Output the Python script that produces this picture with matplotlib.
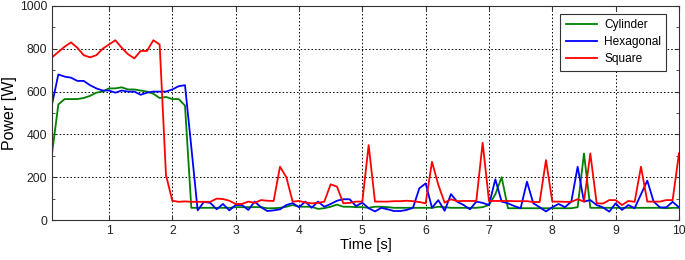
import matplotlib

matplotlib.use("Agg")
import matplotlib.pyplot as plt  # noqa: E402
import numpy as np  # noqa: E402
from matplotlib.ticker import MultipleLocator  # noqa: E402

plt.rcParams.update(
    {
        "font.family": ["Liberation Sans", "DejaVu Sans"],
        "font.size": 8.7,
        "xtick.direction": "in",
        "ytick.direction": "in",
        "xtick.top": True,
        "ytick.right": True,
    }
)

# time axis, 0.1 s steps
time = np.round(np.arange(1, 101) * 0.1, 1)

cylinder = [
    310, 540, 565, 565, 565, 570, 580, 595, 600, 615,
    615, 620, 610, 610, 605, 600, 590, 570, 575, 565,
    565, 535, 57, 57, 57, 57, 57, 57, 57, 60,
    60, 60, 60, 60, 55, 55, 57, 62, 70, 62,
    62, 62, 52, 55, 62, 72, 62, 62, 60, 60,
    57, 62, 62, 60, 57, 57, 57, 57, 57, 57,
    57, 62, 60, 57, 57, 57, 57, 57, 60, 70,
    120, 200, 55, 55, 55, 55, 55, 55, 55, 55,
    55, 55, 55, 60, 311, 57, 57, 57, 57, 57,
    57, 57, 57, 57, 57, 57, 57, 55, 57, 57,
]
hexagonal = [
    540, 680, 670, 665, 650, 650, 630, 615, 605, 605,
    595, 605, 600, 600, 585, 595, 600, 600, 600, 610,
    625, 630, 340, 45, 85, 80, 50, 75, 45, 70,
    70, 47, 86, 60, 42, 45, 50, 70, 79, 60,
    86, 57, 86, 62, 75, 90, 97, 97, 65, 81,
    55, 40, 57, 50, 42, 42, 47, 57, 148, 171,
    57, 93, 43, 121, 85, 70, 50, 86, 80, 70,
    190, 86, 78, 65, 55, 179, 78, 60, 40, 60,
    75, 60, 86, 249, 86, 93, 70, 59, 39, 78,
    47, 70, 55, 120, 184, 86, 59, 59, 85, 59,
]
square = [
    760, 785, 810, 830, 805, 770, 760, 770, 800, 820,
    840, 805, 775, 755, 790, 790, 840, 820, 210, 90,
    85, 87, 85, 85, 85, 85, 100, 98, 90, 75,
    75, 86, 80, 93, 90, 89, 249, 200, 86, 89,
    82, 78, 80, 86, 167, 156, 78, 80, 86, 86,
    350, 86, 86, 86, 88, 88, 90, 88, 84, 78,
    272, 164, 81, 97, 88, 89, 89, 89, 361, 89,
    89, 89, 89, 88, 88, 88, 84, 84, 280, 86,
    86, 85, 85, 97, 86, 311, 78, 77, 93, 93,
    70, 89, 85, 249, 86, 86, 86, 93, 93, 311,
]

series = [
    ("Cylinder", cylinder, "#008000"),
    ("Hexagonal", hexagonal, "#0000ff"),
    ("Square", square, "#ff0000"),
]

fig = plt.figure(figsize=(6.85, 2.6), dpi=100)
ax = fig.add_axes([0.0759, 0.1538, 0.9153, 0.8232])

for name, values, color in series:
    ax.plot(time, values, color=color, lw=1.3, label=name)

ax.set_xlim(0.1, 10)
ax.set_ylim(0, 1000)
ax.xaxis.set_major_locator(MultipleLocator(1))
ax.yaxis.set_major_locator(MultipleLocator(200))
ax.yaxis.set_minor_locator(MultipleLocator(100))
ax.tick_params(which="both", length=3, colors="#333333", labelcolor="#222222")
ax.tick_params(which="minor", length=2)
ax.grid(True, which="major", color="black", ls=(0, (1.5, 2.2)), lw=0.7)
for sp in ax.spines.values():
    sp.set_color("#333333")

ax.set_xlabel("Time [s]", fontsize=10.5, labelpad=1)
ax.set_ylabel("Power [W]", fontsize=11.5, labelpad=2)

leg = ax.legend(
    loc="upper right", bbox_to_anchor=(0.98, 0.963), borderaxespad=0,
    fancybox=False, edgecolor="#333333", framealpha=1, fontsize=8.6,
    handlelength=2.6, handletextpad=0.6, labelspacing=0.42, borderpad=0.45,
)
leg.get_frame().set_linewidth(0.8)

fig.savefig("out.png", dpi=100)
